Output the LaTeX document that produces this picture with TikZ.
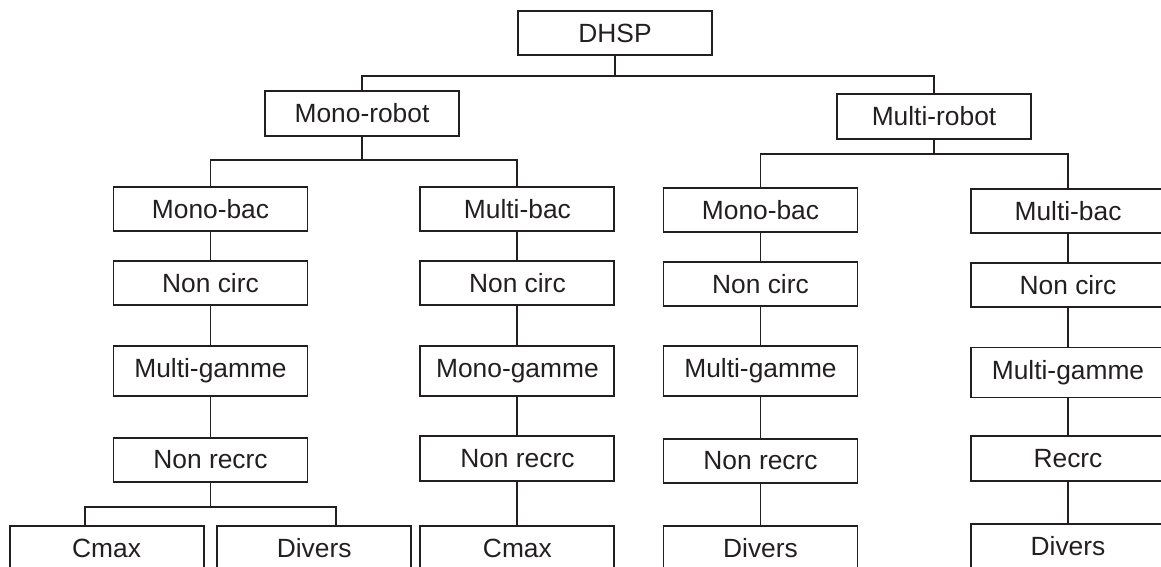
\documentclass[tikz,border=0pt]{standalone}
\usepackage{fontspec}
\setmainfont{Liberation Sans}
\usepackage{tikz}
\usetikzlibrary{positioning,calc}
\definecolor{boxline}{RGB}{35,31,32}

\begin{document}
\begin{tikzpicture}[x=0.02cm, y=-0.02cm,
  every node/.style={font=\fontsize{15pt}{18pt}\selectfont, text=boxline},
  cls/.style={rectangle, draw=boxline, line width=1.05pt, inner sep=0pt,
              minimum width=3.88cm, minimum height=0.89cm},
  tall/.style={cls, minimum height=1cm},
  link/.style={draw=boxline, line width=1.05pt}
]
  \clip (0,0) rectangle (1161,567);
  \node[cls] (dhsp) at (615,33) {DHSP};
  \node[cls] (monorob) at (362,113.5) {Mono-robot};
  \node[cls] (multirob) at (934,116.5) {Multi-robot};

  \node[cls]  (monobaca)   at (210.5,209) {Mono-bac};
  \node[cls]  (noncirca)   at (210.5,283) {Non circ};
  \node[tall] (multigama)  at (210.5,371) {Multi-gamme};
  \node[cls]  (nonrecrca)  at (210.5,460) {Non recrc};
  \node[cls]  (cmaxa)      at (106.6,548) {Cmax};
  \node[cls]  (diversa)    at (314.2,548) {Divers};

  \node[cls]  (multibacb)  at (517.4,209) {Multi-bac};
  \node[cls]  (noncircb)   at (517.4,283) {Non circ};
  \node[tall] (monogamb)   at (517.4,371) {Mono-gamme};
  \node[cls]  (nonrecrcb)  at (517.4,458.5) {Non recrc};
  \node[cls]  (cmaxb)      at (517.4,548) {Cmax};

  \node[cls]  (monobacc)   at (760.5,210) {Mono-bac};
  \node[cls]  (noncircc)   at (760.5,284) {Non circ};
  \node[tall] (multigamc)  at (760.5,371) {Multi-gamme};
  \node[cls]  (nonrecrcc)  at (760.5,461) {Non recrc};
  \node[cls]  (diversc)    at (760.5,548) {Divers};

  \node[cls]  (multibacd)  at (1068,211) {Multi-bac};
  \node[cls]  (noncircd)   at (1068,285) {Non circ};
  \node[tall] (multigamd)  at (1068,372.5) {Multi-gamme};
  \node[cls]  (recrcd)     at (1068,458.5) {Recrc};
  \node[cls]  (diversd)    at (1068,546.5) {Divers};

  \coordinate (busa) at (615,76);
  \coordinate (busb) at (362,160);
  \coordinate (busc) at (934,154);
  \coordinate (busd) at (210.5,507);

  \draw[link] (dhsp) -- (busa);
  \draw[link] (monorob.north) |- (busa) -| (multirob.north);
  \draw[link] (monorob) -- (busb);
  \draw[link] (monobaca.north) |- (busb) -| (multibacb.north);
  \draw[link] (multirob) -- (busc);
  \draw[link] (monobacc.north) |- (busc) -| (multibacd.north);

  \draw[link] (monobaca) -- (noncirca) -- (multigama) -- (nonrecrca) -- (busd);
  \draw[link] ([xshift=-0.43cm]cmaxa.north) |- (busd) -| ([xshift=0.43cm]diversa.north);
  \draw[link] (multibacb) -- (noncircb) -- (monogamb) -- (nonrecrcb) -- (cmaxb);
  \draw[link] (monobacc) -- (noncircc) -- (multigamc) -- (nonrecrcc) -- (diversc);
  \draw[link] (multibacd) -- (noncircd) -- (multigamd) -- (recrcd) -- (diversd);
\end{tikzpicture}
\end{document}
